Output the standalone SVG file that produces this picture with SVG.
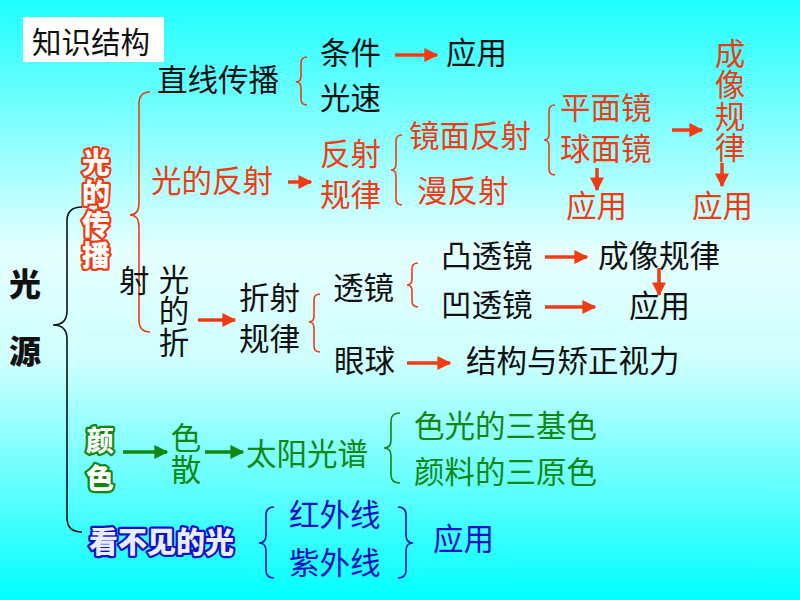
<svg xmlns="http://www.w3.org/2000/svg" width="800" height="600" viewBox="0 0 800 600">
<defs>
<linearGradient id="bg" x1="0" y1="0" x2="0" y2="1">
<stop offset="0" stop-color="#1EFFFF"/>
<stop offset="0.42" stop-color="#E6FFFF"/>
<stop offset="0.6" stop-color="#CFFFFF"/>
<stop offset="1" stop-color="#00FFFF"/>
</linearGradient>
<marker id="ar" viewBox="0 0 10 10" refX="9" refY="5" markerWidth="4" markerHeight="4" orient="auto" markerUnits="strokeWidth"><path d="M0,0 L10,5 L0,10 z" fill="#F03C14"/></marker>
<marker id="ag" viewBox="0 0 10 10" refX="9" refY="5" markerWidth="4" markerHeight="4" orient="auto" markerUnits="strokeWidth"><path d="M0,0 L10,5 L0,10 z" fill="#118811"/></marker>
</defs>
<style>
text{font-family:"Noto Sans CJK SC","Noto Sans CJK JP",sans-serif;font-size:30.5px}
.v{writing-mode:vertical-rl;text-orientation:upright}
.k{fill:#111}
.o{fill:#F03C14}
.g{fill:#118811}
.b{fill:#1010C8}
.ho{fill:#fff;stroke:#F03C14;stroke-width:4.5;paint-order:stroke;stroke-linejoin:round;font-weight:900;font-size:28px}
.hg{fill:#fff;stroke:#118811;stroke-width:4.5;paint-order:stroke;stroke-linejoin:round;font-weight:900;font-size:28px}
.hb{fill:#E6EEFF;stroke:#1010C8;stroke-width:4.5;paint-order:stroke;stroke-linejoin:round;font-weight:900;font-size:29px}
.bo{fill:#111;font-weight:900;font-size:32px}
.br{fill:none;stroke-width:1.6}
.bro{stroke:#F03C14}
.brk{stroke:#111}
.brg{stroke:#118811}
.brb{stroke:#1010C8}
.ao{stroke:#F03C14;stroke-width:3.5;fill:none;marker-end:url(#ar)}
.agg{stroke:#118811;stroke-width:3.5;fill:none;marker-end:url(#ag)}
</style>
<rect x="0" y="0" width="800" height="600" fill="url(#bg)"/>

<g id="connectors">
<path class="br brk" d="M82,207 Q67,207 67,221 L67,311 Q67,325 53,325 Q67,325 67,339 L67,518 Q67,532 82,532"/>
<path class="br bro" d="M150,92 Q139,92 139,104 L139,203 Q139,215 130,215 Q139,215 139,227 L139,320 Q139,332 150,332"/>
<path class="br bro" d="M307,57 Q301,57 301,63 L301,76 Q301,82 296,82 Q301,82 301,88 L301,99 Q301,105 307,105"/>
<path class="br bro" d="M402,135 Q396,135 396,141 L396,164 Q396,170 391,170 Q396,170 396,176 L396,199 Q396,205 402,205"/>
<path class="br bro" d="M555,105 Q549,105 549,111 L549,134 Q549,140 544,140 Q549,140 549,146 L549,169 Q549,175 555,175"/>
<path class="br bro" d="M320,294 Q314,294 314,300 L314,316 Q314,322 309,322 Q314,322 314,328 L314,346 Q314,352 320,352"/>
<path class="br bro" d="M418,263 Q412,263 412,269 L412,279 Q412,285 407,285 Q412,285 412,291 L412,301 Q412,307 418,307"/>
<path class="br brg" d="M400,413 Q391,413 391,421 L391,440 Q391,448 384,448 Q391,448 391,456 L391,475 Q391,483 400,483"/>
<path class="br brb" d="M274,507 Q266,507 266,515 L266,535 Q266,543 259,543 Q266,543 266,551 L266,570 Q266,578 274,578"/>
<path class="br brb" d="M398,507 Q406,507 406,515 L406,535 Q406,543 413,543 Q406,543 406,551 L406,570 Q406,578 398,578"/>
<path class="ao" d="M395,55 L437,55"/>
<path class="ao" d="M288,182 L311,182"/>
<path class="ao" d="M597,168 L597,190"/>
<path class="ao" d="M672,130 L702,130"/>
<path class="ao" d="M722,163 L722,186"/>
<path class="ao" d="M198,320 L235,320"/>
<path class="ao" d="M545,257 L587,257"/>
<path class="ao" d="M545,307 L595,307"/>
<path class="ao" d="M659,268 L659,295"/>
<path class="ao" d="M407,363 L450,363"/>
<path class="agg" d="M123,452 L167,452"/>
<path class="agg" d="M205,452 L243,452"/>
</g>

<g id="title"><rect x="23" y="17" width="141" height="45" fill="#fff"/><text class="k" x="32" y="53" style="font-size:29.5px">知识结构</text></g>
<g id="n-guangyuan"><text class="bo v" x="25" y="268" style="letter-spacing:35px">光源</text></g>
<g id="n-chuanbo"><text class="ho v" x="96" y="148" style="letter-spacing:3px">光的传播</text></g>
<g id="n-zhixian"><text class="k" x="157" y="91">直线传播</text></g>
<g id="n-tiaojian"><text class="k" x="320" y="64">条件</text></g>
<g id="n-guangsu"><text class="k" x="320" y="109">光速</text></g>
<g id="n-yingyong1"><text class="k" x="446" y="64">应用</text></g>
<g id="n-fanshe"><text class="o" x="151" y="192">光的反射</text></g>
<g id="n-fanshegl"><text class="o"><tspan x="320" y="165">反射</tspan><tspan x="320" y="206">规律</tspan></text></g>
<g id="n-jingmian"><text class="o" x="409" y="147">镜面反射</text></g>
<g id="n-manfanshe"><text class="o" x="417" y="202">漫反射</text></g>
<g id="n-mirrors"><text class="o"><tspan x="560" y="119">平面镜</tspan><tspan x="560" y="160">球面镜</tspan></text></g>
<g id="n-yingyong2"><text class="o" x="566" y="217">应用</text></g>
<g id="n-chengxiang1"><text class="o v" x="730" y="38" style="letter-spacing:1px">成像规律</text></g>
<g id="n-yingyong3"><text class="o" x="692" y="217">应用</text></g>
<g id="n-zheshe"><text class="k" x="119" y="292">射</text><text class="k v" x="174" y="264" style="letter-spacing:1px">光的折</text></g>
<g id="n-zhesheglv"><text class="k"><tspan x="239" y="309">折射</tspan><tspan x="239" y="350">规律</tspan></text></g>
<g id="n-toujing"><text class="k" x="333" y="299">透镜</text></g>
<g id="n-tu"><text class="k" x="441" y="267">凸透镜</text></g>
<g id="n-ao"><text class="k" x="441" y="316">凹透镜</text></g>
<g id="n-chengxiang2"><text class="k" x="598" y="267">成像规律</text></g>
<g id="n-yingyong4"><text class="k" x="629" y="317">应用</text></g>
<g id="n-yanqiu"><text class="k" x="334" y="372">眼球</text></g>
<g id="n-jiegou"><text class="k" x="466" y="372">结构与矫正视力</text></g>
<g id="n-yanse"><text class="hg v" x="100" y="426" style="letter-spacing:10px">颜色</text></g>
<g id="n-sesan"><text class="g v" x="186" y="422" style="letter-spacing:2px">色散</text></g>
<g id="n-taiyang"><text class="g" x="246" y="465">太阳光谱</text></g>
<g id="n-sanjise"><text class="g" x="414" y="437">色光的三基色</text></g>
<g id="n-sanyuanse"><text class="g" x="414" y="483">颜料的三原色</text></g>
<g id="n-kanbujian"><text class="hb" x="89" y="553">看不见的光</text></g>
<g id="n-hongwai"><text class="b" x="289" y="526">红外线</text></g>
<g id="n-ziwai"><text class="b" x="289" y="574">紫外线</text></g>
<g id="n-yingyong5"><text class="b" x="433" y="550">应用</text></g>
</svg>
